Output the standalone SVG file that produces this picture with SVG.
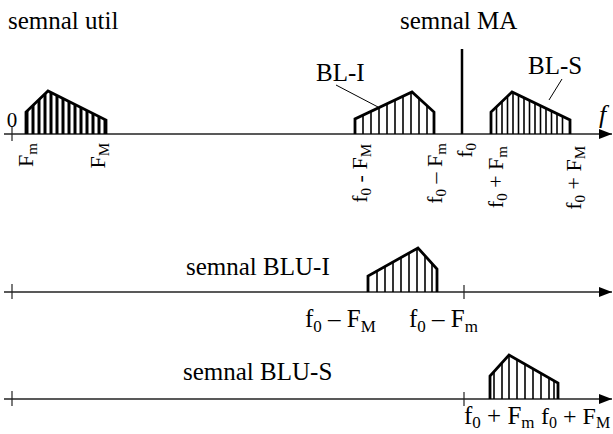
<svg xmlns="http://www.w3.org/2000/svg" width="613" height="434" viewBox="0 0 613 434" font-family="'Liberation Serif', 'Times New Roman', 'DejaVu Serif', serif">
<style>
text{font-family:'Liberation Serif','Times New Roman','DejaVu Serif',serif;font-size:25px;fill:#000}
.sub{font-size:17px}
.rot{font-size:22px}
.rot .sub{font-size:15px}
.edge{font-size:24px}
.edge .sub{font-size:16px}
.axis{stroke:#222;stroke-width:1.5;fill:none}
.tick{stroke:#222;stroke-width:1.2}
.out{fill:none;stroke:#000;stroke-width:2.8;stroke-linejoin:miter}
.thick{stroke:#000;stroke-width:3}
.thin{stroke:#000;stroke-width:1.6}
.lead{stroke:#000;stroke-width:1}
</style>
<defs>
<marker id="arr" markerWidth="14" markerHeight="10" refX="13" refY="5" orient="auto" markerUnits="userSpaceOnUse">
<path d="M0,0 L13,5 L0,10 Z" fill="#000"/>
</marker>
<clipPath id="c1"><polygon points="26,134 26,112 48,91 106,120 106,134"/></clipPath>
<clipPath id="c2"><polygon points="355,134 355,119 412,92 434,112 434,134"/></clipPath>
<clipPath id="c3"><polygon points="491,134 491,112 512,92 570,120 570,134"/></clipPath>
<clipPath id="c4"><polygon points="368,292 368,276 418,248 437,269 437,292"/></clipPath>
<clipPath id="c5"><polygon points="490,399 490,376 509,355 558,383 558,399"/></clipPath>
</defs>

<g id="titles">
<text x="8" y="29">semnal util</text>
<text x="400" y="29">semnal MA</text>
<text x="186" y="275">semnal BLU-I</text>
<text x="183" y="380">semnal BLU-S</text>
</g>

<g id="connectors">
<line class="axis" x1="4" y1="134" x2="612" y2="134" marker-end="url(#arr)"/>
<line class="axis" x1="4" y1="292" x2="612" y2="292" marker-end="url(#arr)"/>
<line class="axis" x1="4" y1="399" x2="612" y2="399" marker-end="url(#arr)"/>
<line class="tick" x1="12" y1="127" x2="12" y2="141"/>
<line class="tick" x1="12" y1="284" x2="12" y2="299"/>
<line class="tick" x1="12" y1="391" x2="12" y2="406"/>
<line class="tick" x1="464" y1="285" x2="464" y2="299"/>
<line class="tick" x1="464" y1="392" x2="464" y2="406"/>
<line class="lead" x1="336" y1="85" x2="378" y2="107"/>
<line class="lead" x1="562" y1="79" x2="549" y2="100"/>
</g>

<g id="axis-labels">
<text x="12" y="127" text-anchor="middle" style="font-size:21px">0</text>
<text x="599" y="123" style="font-style:italic;font-size:26px">f</text>
</g>

<g id="spectrum-util">
<path class="thick" clip-path="url(#c1)" d="M27,134V90M33,134V90M39,134V90M45,134V90M51,134V90M57,134V90M63,134V90M69,134V90M75,134V90M81,134V90M87,134V90M93,134V90M99,134V90M105,134V90"/>
<polyline class="out" points="26,134 26,112 48,91 106,120 106,134"/>
</g>

<g id="carrier">
<line x1="462" y1="49" x2="462" y2="134" stroke="#000" stroke-width="2.5"/>
</g>

<g id="spectrum-bli">
<path class="thin" clip-path="url(#c2)" d="M363,134V90M371,134V90M379,134V90M387,134V90M395,134V90M403,134V90M411,134V90M419,134V90M427,134V90"/>
<polyline class="out" points="355,134 355,119 412,92 434,112 434,134"/>
<text x="316" y="81">BL-I</text>
</g>

<g id="spectrum-bls">
<path class="thin" clip-path="url(#c3)" d="M496.5,134V90M502,134V90M507.5,134V90M513,134V90M518.5,134V90M524,134V90M529.5,134V90M535,134V90M540.5,134V90M546,134V90M551.5,134V90M557,134V90M562.5,134V90"/>
<polyline class="out" points="491,134 491,112 512,92 570,120 570,134"/>
<text x="528" y="74">BL-S</text>
</g>

<g id="top-labels">
<text class="rot" transform="translate(33,143) rotate(-90)" text-anchor="end">F<tspan class="sub" dy="4">m</tspan></text>
<text class="rot" transform="translate(105,143) rotate(-90)" text-anchor="end">F<tspan class="sub" dy="4">M</tspan></text>
<text class="rot" transform="translate(367,144) rotate(-90)" text-anchor="end">f<tspan class="sub" dy="4">0</tspan><tspan dy="-4"> - F</tspan><tspan class="sub" dy="4">M</tspan></text>
<text class="rot" transform="translate(442,143) rotate(-90)" text-anchor="end">f<tspan class="sub" dy="4">0</tspan><tspan dy="-4"> – F</tspan><tspan class="sub" dy="4">m</tspan></text>
<text class="rot" transform="translate(472,143) rotate(-90)" text-anchor="end">f<tspan class="sub" dy="4">0</tspan></text>
<text class="rot" transform="translate(503,146) rotate(-90)" text-anchor="end">f<tspan class="sub" dy="4">0</tspan><tspan dy="-4"> + F</tspan><tspan class="sub" dy="4">m</tspan></text>
<text class="rot" transform="translate(581,146) rotate(-90)" text-anchor="end">f<tspan class="sub" dy="4">0</tspan><tspan dy="-4"> + F</tspan><tspan class="sub" dy="4">M</tspan></text>
</g>

<g id="spectrum-blui">
<path class="thin" clip-path="url(#c4)" d="M377,292V245M385,292V245M393,292V245M401,292V245M409,292V245M417,292V245M425,292V245M432,292V245"/>
<polyline class="out" points="368,292 368,276 418,248 437,269 437,292"/>
<text x="305" y="327">f<tspan class="sub" dy="5">0</tspan><tspan dy="-5"> – F</tspan><tspan class="sub" dy="5">M</tspan></text>
<text x="409" y="327">f<tspan class="sub" dy="5">0</tspan><tspan dy="-5"> – F</tspan><tspan class="sub" dy="5">m</tspan></text>
</g>

<g id="spectrum-blus">
<path class="thin" clip-path="url(#c5)" d="M494,399V350M502,399V350M509,399V350M517,399V350M525,399V350M533,399V350M541,399V350M549,399V350M554,399V350"/>
<polyline class="out" points="490,399 490,376 509,355 558,383 558,399"/>
<text x="464" y="424">f<tspan class="sub" dy="4">0</tspan><tspan dy="-4"> + F</tspan><tspan class="sub" dy="4">m</tspan></text>
<text class="edge" x="541" y="424">f<tspan class="sub" dy="4">0</tspan><tspan dy="-4"> + F</tspan><tspan class="sub" dy="4">M</tspan></text>
</g>
</svg>
